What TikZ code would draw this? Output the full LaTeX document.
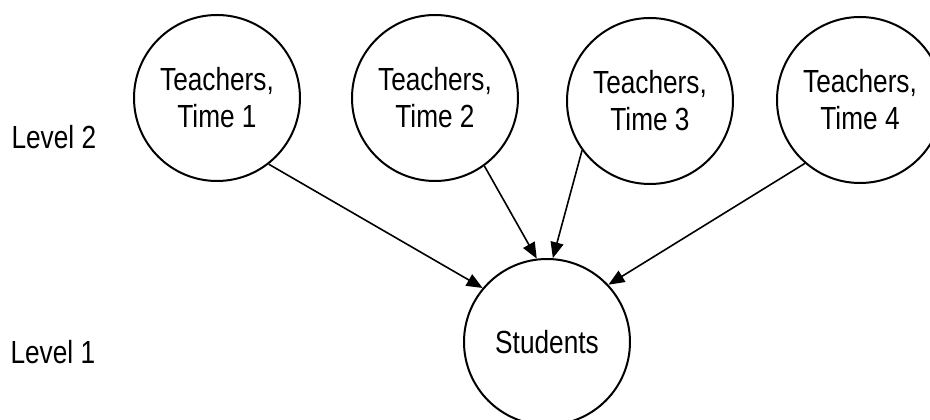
\documentclass[tikz,border=0pt]{standalone}
\usepackage{fontspec}
\setmainfont{Liberation Sans}[FakeStretch=0.82]
\usetikzlibrary{arrows.meta}

\begin{document}
\begin{tikzpicture}[x=1pt, y=1pt,
			base/.style={font=\fontsize{32}{37}\selectfont},
			circ/.style={base, draw, circle, line width=2pt, minimum size=166pt, inner sep=0pt, align=center},
			level/.style={base, anchor=west},
			link/.style={line width=1.6pt, -{Triangle[length=16pt, width=13pt]}},
		]
		\useasboundingbox (0,0) rectangle (930,420);

		\node[circ] (teachers-time-1) at (217,322) {Teachers,\\Time 1};
		\node[circ] (teachers-time-2) at (435,322) {Teachers,\\Time 2};
		\node[circ] (teachers-time-3) at (650,319) {Teachers,\\Time 3};
		\node[circ] (teachers-time-4) at (860,320) {Teachers,\\Time 4};
		\node[circ] (students) at (547,78) {Students};
		\node[level] (level-2) at (8,283) {Level 2};
		\node[level] (level-1) at (7,68) {Level 1};

		\draw[link] (teachers-time-1.-52) -- (students.140);
		\draw[link] (teachers-time-2.-54) -- (students.97);
		\draw[link] (teachers-time-3.-144) -- (students.86);
		\draw[link] (teachers-time-4.-131) -- (students.43);

		\end{tikzpicture}
\end{document}
